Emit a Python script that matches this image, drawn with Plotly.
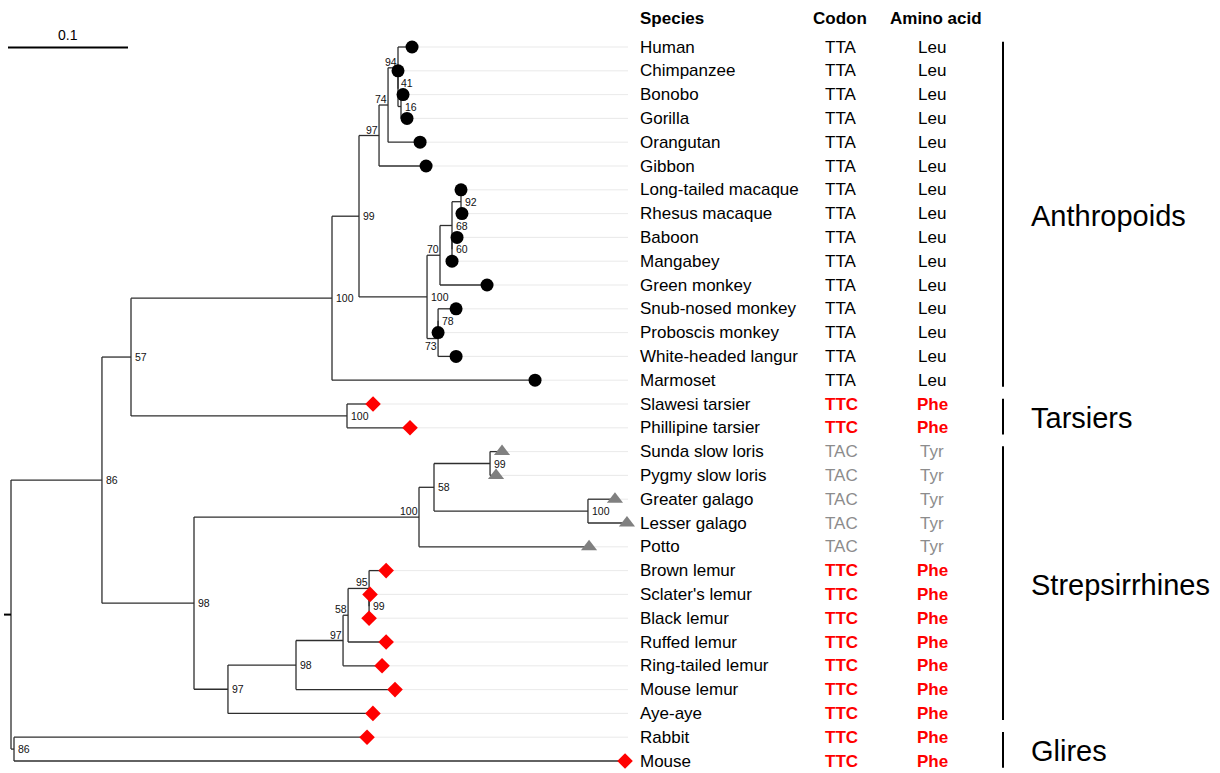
import plotly.graph_objects as go

# ---------------- data ----------------
species = ["Human", "Chimpanzee", "Bonobo", "Gorilla", "Orangutan", "Gibbon",
           "Long-tailed macaque", "Rhesus macaque", "Baboon", "Mangabey", "Green monkey",
           "Snub-nosed monkey", "Proboscis monkey", "White-headed langur", "Marmoset",
           "Slawesi tarsier", "Phillipine tarsier",
           "Sunda slow loris", "Pygmy slow loris", "Greater galago", "Lesser galago", "Potto",
           "Brown lemur", "Sclater's lemur", "Black lemur", "Ruffed lemur", "Ring-tailed lemur",
           "Mouse lemur", "Aye-aye", "Rabbit", "Mouse"]
codons = ["TTA"] * 15 + ["TTC"] * 2 + ["TAC"] * 5 + ["TTC"] * 9
aminos = ["Leu"] * 15 + ["Phe"] * 2 + ["Tyr"] * 5 + ["Phe"] * 9

leaf_parent = ["Homininae", "n41", "n16", "n16", "Hominidae", "Hominoidea",
               "Macaca", "Macaca", "n60", "n60", "Cercopithecinae",
               "n78", "n78", "Colobinae", "Anthropoidea",
               "Tarsiidae", "Tarsiidae",
               "Lorisidae", "Lorisidae", "Galagidae", "Galagidae", "Lorisiformes",
               "Eulemur", "n99", "n99", "n58b", "Lemuridae",
               "n98", "Lemuriformes", "Glires", "Glires"]
leaf_length = [0.0117, 0.0, 0.0017, 0.0050, 0.0267, 0.0392,
               0.0, 0.0008, 0.0042, 0.0, 0.0392,
               0.0150, 0.0, 0.0150, 0.1692,
               0.0217, 0.0525,
               0.0100, 0.0050, 0.0225, 0.0325, 0.1417,
               0.0142, 0.0008, 0.0, 0.0317, 0.0325,
               0.0825, 0.1208, 0.2942, 0.5092]

node_names = ["root", "Primates", "Haplorhini", "Anthropoidea", "Catarrhini", "Hominoidea",
              "Hominidae", "Homininae", "n41", "n16", "Cercopithecidae", "Cercopithecinae",
              "Papionini", "Macaca", "n60", "Colobinae", "n78", "Tarsiidae",
              "Strepsirrhini", "Lorisiformes", "n58a", "Lorisidae", "Galagidae",
              "Lemuriformes", "n98", "Lemuridae", "n58b", "Eulemur", "n99", "Glires"]
node_parent = [None, "root", "Primates", "Haplorhini", "Anthropoidea", "Catarrhini",
               "Hominoidea", "Hominidae", "Homininae", "n41", "Catarrhini", "Cercopithecidae",
               "Cercopithecinae", "Papionini", "Papionini", "Cercopithecidae", "Colobinae", "Haplorhini",
               "Primates", "Strepsirrhini", "Lorisiformes", "n58a", "n58a",
               "Strepsirrhini", "Lemuriformes", "n98", "Lemuridae", "n58b", "Eulemur", "root"]
node_length = [0.0, 0.0758, 0.0242, 0.1675, 0.0225, 0.0167,
               0.0075, 0.0083, 0.0, 0.0025, 0.0567, 0.0108,
               0.0100, 0.0075, 0.0, 0.0092, 0.0, 0.1800,
               0.0767, 0.1875, 0.0125, 0.0467, 0.1283,
               0.0283, 0.0567, 0.0392, 0.0042, 0.0175, 0.0, 0.0025]
node_support = ["", "86", "57", "100", "99", "97",
                "74", "94", "41", "16", "100", "70",
                "68", "92", "60", "73", "78", "100",
                "98", "100", "58", "99", "100",
                "97", "98", "97", "58", "95", "99", "86"]

clade_names = ["Anthropoids", "Tarsiers", "Strepsirrhines", "Glires"]
clade_first = [0, 15, 17, 29]
clade_last = [14, 16, 28, 30]

scale_length = 0.1

# ---------------- layout helpers ----------------
W, H = 1220, 773
PX_PER_UNIT = 1200.0
ROOT_PX = 11.0
ROW0_PX, ROW_STEP = 47.0, 23.8


def px2x(p):
    return (p - ROOT_PX) / PX_PER_UNIT


def py2row(p):
    return (p - ROW0_PX) / ROW_STEP


FONT = "Liberation Sans, Arial, Helvetica, sans-serif"
BRANCH_COLOR = "#2e2e2e"

# ---------------- tree geometry ----------------
nx = {}
for n, p, L in zip(node_names, node_parent, node_length):
    nx[n] = 0.0 if p is None else nx[p] + L
leaf_x = [nx[p] + L for p, L in zip(leaf_parent, leaf_length)]

child_y = {n: [] for n in node_names}
for i, p in enumerate(leaf_parent):
    child_y[p].append(float(i))
ny = {}
for n, p in reversed(list(zip(node_names, node_parent))):
    ys = child_y[n]
    ny[n] = (min(ys) + max(ys)) / 2.0
    if p is not None:
        child_y[p].append(ny[n])

seg_x, seg_y = [], []
for n, p in zip(node_names, node_parent):
    ys = child_y[n]
    seg_x += [nx[n], nx[n], None]
    seg_y += [min(ys), max(ys), None]
    if p is not None:
        seg_x += [nx[p], nx[n], None]
        seg_y += [ny[n], ny[n], None]
for i, p in enumerate(leaf_parent):
    seg_x += [nx[p], leaf_x[i], None]
    seg_y += [i, i, None]

lead_x, lead_y = [], []
for i in range(len(species)):
    lead_x += [leaf_x[i], px2x(628), None]
    lead_y += [i, i, None]

fig = go.Figure()
fig.add_trace(go.Scatter(x=lead_x, y=lead_y, mode="lines",
                         line=dict(color="#e3e3e3", width=0.8), hoverinfo="skip"))
fig.add_trace(go.Scatter(x=seg_x, y=seg_y, mode="lines",
                         line=dict(color=BRANCH_COLOR, width=1.3), hoverinfo="skip"))
# root edge
fig.add_trace(go.Scatter(x=[px2x(4), 0.0], y=[ny["root"], ny["root"]], mode="lines",
                         line=dict(color="black", width=2), hoverinfo="skip"))

marker_style = {"TTA": ("circle", "black", 13),
                "TTC": ("diamond", "#ff0000", 12),
                "TAC": ("triangle-up", "#808080", 14)}
for cod, (sym, col, sz) in marker_style.items():
    idx = [i for i, c in enumerate(codons) if c == cod]
    fig.add_trace(go.Scatter(x=[leaf_x[i] for i in idx], y=idx, mode="markers",
                             marker=dict(symbol=sym, color=col, size=sz, line=dict(width=0)),
                             text=[species[i] for i in idx], hoverinfo="text"))

ann = []
# bootstrap labels
placement = {"Hominoidea": "la", "Hominidae": "la", "Homininae": "la", "n41": "ra",
             "Cercopithecinae": "la", "Colobinae": "lb", "Lemuridae": "la", "n58b": "la",
             "Eulemur": "la", "Lorisiformes": "la"}
for n, s in zip(node_names, node_support):
    if not s:
        continue
    mode = placement.get(n, "r")
    a = dict(x=nx[n], y=ny[n], xref="x", yref="y", text=s, showarrow=False,
             font=dict(family=FONT, size=10.5, color="#111111"), borderpad=0)
    if mode == "r":
        a.update(xanchor="left", yanchor="middle", xshift=3)
    elif mode == "la":
        a.update(xanchor="right", yanchor="bottom", xshift=0, yshift=-1)
    elif mode == "ra":
        a.update(xanchor="left", yanchor="bottom", xshift=2, yshift=-1)
    elif mode == "lb":
        a.update(xanchor="right", yanchor="top", xshift=0, yshift=0)
    ann.append(a)

# table columns
col_sp, col_cod, col_aa = 638 / W, 841 / W, 932 / W
for i, (sp, c, aa) in enumerate(zip(species, codons, aminos)):
    ann.append(dict(x=col_sp, y=i, xref="paper", yref="y", text=sp, showarrow=False,
                    xanchor="left", yanchor="middle", font=dict(family=FONT, size=17, color="black")))
    if c == "TTC":
        ctext, atext, col = "<b>%s</b>" % c, "<b>%s</b>" % aa, "#ff0000"
    elif c == "TAC":
        ctext, atext, col = c, aa, "#8c8c8c"
    else:
        ctext, atext, col = c, aa, "black"
    ann.append(dict(x=col_cod, y=i, xref="paper", yref="y", text=ctext, showarrow=False,
                    xanchor="center", yanchor="middle", font=dict(family=FONT, size=17, color=col)))
    ann.append(dict(x=col_aa, y=i, xref="paper", yref="y", text=atext, showarrow=False,
                    xanchor="center", yanchor="middle", font=dict(family=FONT, size=17, color=col)))

hdr_y = py2row(18)
for txt, xx, anc in [("Species", 638 / W, "left"), ("Codon", 840 / W, "center"),
                     ("Amino acid", 936 / W, "center")]:
    ann.append(dict(x=xx, y=hdr_y, xref="paper", yref="y", text="<b>%s</b>" % txt, showarrow=False,
                    xanchor=anc, yanchor="middle", font=dict(family=FONT, size=17, color="black")))

# clade bars and labels
shapes = []
for name, a, b in zip(clade_names, clade_first, clade_last):
    shapes.append(dict(type="line", xref="paper", yref="y", x0=1003 / W, x1=1003 / W,
                       y0=a - 0.22, y1=b + 0.28, line=dict(color="black", width=2)))
    ann.append(dict(x=1029 / W, y=(a + b) / 2.0 + 0.1, xref="paper", yref="y", text=name,
                    showarrow=False, xanchor="left", yanchor="middle",
                    font=dict(family=FONT, size=29, color="black")))

# scale bar
sb_y = py2row(47.5)
shapes.append(dict(type="line", xref="x", yref="y", x0=px2x(8), x1=px2x(8) + scale_length,
                   y0=sb_y, y1=sb_y, line=dict(color="black", width=2)))
ann.append(dict(x=px2x(8) + scale_length / 2, y=py2row(35), xref="x", yref="y", text=str(scale_length),
                showarrow=False, xanchor="center", yanchor="middle",
                font=dict(family=FONT, size=14, color="black")))

fig.update_layout(
    width=W, height=H, margin=dict(l=0, r=0, t=0, b=0),
    paper_bgcolor="white", plot_bgcolor="white", showlegend=False,
    xaxis=dict(range=[px2x(0), px2x(W)], visible=False, fixedrange=True),
    yaxis=dict(range=[py2row(H), py2row(0)], visible=False, fixedrange=True),
    annotations=ann, shapes=shapes,
)
fig.write_html("out.html")
